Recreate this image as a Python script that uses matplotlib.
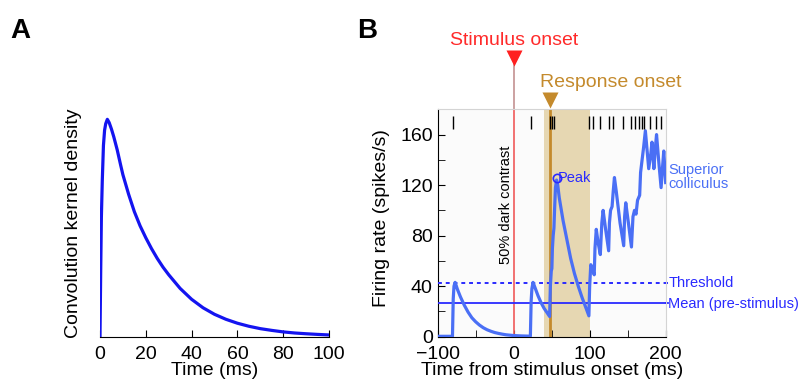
"""
    Convolution kernel (A) and spike-density firing rate of a superior colliculus neuron (B).
"""

import numpy as np
import matplotlib.pyplot as plt

plt.rcParams['font.family'] = ['Liberation Sans', 'DejaVu Sans']

# ---- data ----
# panel A: kernel (peak normalised to 1)
kernel_t = [0, 0.3, 0.6, 1.0, 1.5, 2.0, 2.5, 3.2, 4, 5, 6, 7.5, 9, 10, 12.5, 15, 17.5,
            20, 22.5, 25, 27.5, 30, 35, 40, 45, 50, 55, 60, 65, 70, 75, 80, 85, 90, 95,
            100]
kernel_y = [0, 0.30, 0.55, 0.72, 0.88, 0.95, 0.98, 1.0, 0.985, 0.955, 0.92, 0.86, 0.79,
            0.745, 0.655, 0.575, 0.51, 0.455, 0.405, 0.36, 0.32, 0.285, 0.222, 0.172,
            0.133, 0.103, 0.08, 0.062, 0.048, 0.037, 0.029, 0.022, 0.017, 0.0135,
            0.0105, 0.008]

# panel B: firing rate (spikes/s) vs time from stimulus onset (ms)
rate_t = [-100, -80.5, -79.5, -78.5, -77, -74, -70, -65, -60, -55, -50, -45, -40, -35,
          -30, -25, -20, -15, -10, -5, 0, 10, 22, 23, 24, 25.5, 28, 32, 36, 40, 44,
          47.3, 48.3, 49.5, 50.3, 51, 52, 53, 53.8, 55, 56.5, 58, 60, 65, 70, 75,
          80, 85, 90, 95, 99, 100, 101.5, 104, 106, 107, 108.7, 111, 114, 116,
          117.7, 121, 125, 126, 127.5, 129.5, 131, 132.6, 135, 140, 144.8, 146, 147.5,
          151, 155, 157, 159, 161, 163, 165.8, 167, 169, 171, 173.3, 177.7, 180.5,
          182, 184.5, 186.5, 188, 191, 194, 196, 197.5, 200]
rate_y = [0.3, 0.3, 30, 40, 43, 37.5, 31.5, 25, 19.5, 15, 11.8, 9.2, 7.1, 5.5, 4.3, 3.3,
          2.6, 2.0, 1.5, 1.2, 0.9, 0.6, 0.4, 28, 38, 43, 39, 32.5, 27, 22.5, 19, 16, 40,
          52, 54, 70, 80, 86, 100, 118, 124, 120, 110, 92, 77, 62, 50, 40, 31, 23,
          16.5, 40, 57, 53, 49, 70, 85, 75, 65, 90, 100, 85, 68, 90, 100, 103, 115, 126,
          115, 90, 72, 95, 106, 90, 71, 95, 100, 97, 108, 112, 130, 140, 150, 163, 133,
          145, 154, 133, 150, 160, 138, 118, 135, 147, 122]

spike_times = [-79.6, 22.3, 47.3, 50, 53, 98.5, 105, 113, 125, 131, 144.4, 154.9, 160.2,
               165.4, 169, 171, 179.8, 186.8, 194.3]

mean_rate = 27
threshold = 42.5
response_onset = 47.3
response_window = (40.5, 100)
peak_t, peak_r = 56.7, 125.4

curve_blue = '#4a6ff5'
label_blue = '#2a2aff'
gold = '#c48a2c'

fig = plt.figure(figsize=(8.02, 3.9), dpi=100)

# ---------------- panel A ----------------
axA = fig.add_axes([0.1247, 0.1367, 0.2855, 0.583])
axA.plot(kernel_t, kernel_y, color='#1414f0', lw=2.3)
axA.set_xlim(0, 100)
axA.set_ylim(0, 1.046)
for s in ['left', 'top', 'right']:
    axA.spines[s].set_visible(False)
axA.set_yticks([])
axA.set_xticks([0, 20, 40, 60, 80, 100])
axA.tick_params(axis='x', direction='in', length=5, pad=7, labelsize=14)
axA.set_xlabel('Time (ms)', fontsize=14, labelpad=-1)
axA.set_ylabel('Convolution kernel density', fontsize=14)
axA.yaxis.set_label_coords(-0.079, 0.5)
fig.text(0.013, 0.955, 'A', fontsize=20, fontweight='bold', va='top')

# ---------------- panel B ----------------
axB = fig.add_axes([0.5457, 0.1367, 0.2843, 0.583])
axB.set_facecolor('#fbfbfb')
axB.set_xlim(-100, 200)
axB.set_ylim(0, 180)
for s in ['top', 'right']:
    axB.spines[s].set_color('#d4d4d4')

axB.axvspan(*response_window, color='#e6d7b2', lw=0, zorder=1)
axB.axvline(0, color='#f05a5a', lw=1.2, zorder=2)
axB.axvline(response_onset, color=gold, lw=2, zorder=2)

axB.axhline(threshold, color=label_blue, lw=1.4, ls=(0, (2, 2)), zorder=3)
axB.axhline(mean_rate, color=label_blue, lw=1.3, zorder=3)
axB.plot([200, 203], [threshold, threshold], color=label_blue, lw=1.4,
         ls=(0, (2, 2)), clip_on=False)
axB.plot([200, 203], [mean_rate, mean_rate], color=label_blue, lw=1.3, clip_on=False)

axB.plot(rate_t, rate_y, color=curve_blue, lw=2.3, zorder=4)
axB.plot(peak_t, peak_r, 'o', ms=6, mfc='none', mec=label_blue, mew=1.2, zorder=5)
axB.text(peak_t + 1.5, peak_r, 'Peak', color=label_blue, fontsize=10.5, va='center')

axB.vlines(spike_times, 164.5, 174.5, color='black', lw=1.0, zorder=5)

# markers and labels above the axes
axB.plot([0, 0], [180, 221], color='#c89a9a', lw=1.3, clip_on=False)
axB.plot(0, 221, marker='v', ms=12, color='#ff2020', mec='none', clip_on=False)
axB.text(0, 234.5, 'Stimulus onset', color='#ff2a2a', fontsize=14, ha='center',
         va='center')
axB.plot(response_onset, 187.5, marker='v', ms=12, color=gold, mec='none',
         clip_on=False)
axB.text(127.5, 201, 'Response onset', color=gold, fontsize=14, ha='center',
         va='center')

axB.text(-10.5, 104.5, '50% dark contrast', rotation=90, fontsize=10.5, ha='center',
         va='center')
axB.text(203.5, 126.5, 'Superior\ncolliculus', color=curve_blue, fontsize=10.5,
         va='center', linespacing=1.0)
axB.text(203.5, threshold, 'Threshold', color=label_blue, fontsize=10.5, va='center')
axB.text(203.5, mean_rate - 1, 'Mean (pre-stimulus)', color=label_blue, fontsize=10.5,
         va='center')

axB.set_xticks([-100, 0, 100, 200])
axB.set_xticks([-50, 50, 150], minor=True)
axB.set_yticks([0, 40, 80, 120, 160])
axB.set_yticks([20, 60, 100, 140], minor=True)
axB.tick_params(which='both', direction='in', length=5, labelsize=14)
axB.tick_params(axis='x', which='both', pad=7)
axB.set_xlabel('Time from stimulus onset (ms)', fontsize=14, labelpad=-1)
axB.set_ylabel('Firing rate (spikes/s)', fontsize=14)
axB.yaxis.set_label_coords(-0.209, 0.52)
fig.text(0.445, 0.955, 'B', fontsize=20, fontweight='bold', va='top')

plt.savefig('out.png', dpi=100)
